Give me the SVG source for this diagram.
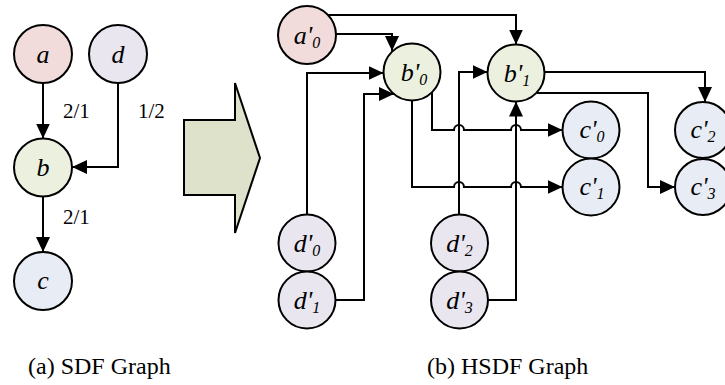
<svg xmlns="http://www.w3.org/2000/svg" width="725" height="385" viewBox="0 0 725 385">
  <defs>
    <marker id="arrow" markerUnits="userSpaceOnUse" markerWidth="15" markerHeight="14" refX="15" refY="7" orient="auto">
      <path d="M0,0 L15,7 L0,14 z" fill="#000"/>
    </marker>
    <style>
      .edge { fill: none; stroke: #000; stroke-width: 2; marker-end: url(#arrow); }
      .node { stroke: #000; stroke-width: 2; }
      .fa { fill: #f2dcdb; }
      .fb { fill: #ebf1de; }
      .fc { fill: #e8ecf4; }
      .fd { fill: #e9e6f0; }
      .lbl { font-style: italic; font-size: 26px; text-anchor: middle; fill: #000; }
      .sub { font-size: 16px; }
      .rate { font-size: 21px; fill: #000; }
      .cap { font-size: 24px; fill: #000; }
    </style>
  </defs>

  <g font-family="'Liberation Serif', 'DejaVu Serif', 'Times New Roman', serif">
  <!-- SDF graph connectors -->
  <g id="sdf-edges">
    <path class="edge" d="M43,83 L43,138.5"/>
    <path class="edge" d="M118,83 L118,167 L72,167"/>
    <path class="edge" d="M43,197 L43,252"/>
    <text class="rate" x="63" y="118">2/1</text>
    <text class="rate" x="138" y="118">1/2</text>
    <text class="rate" x="63" y="224">2/1</text>
  </g>

  <!-- SDF graph actors -->
  <g id="a"><circle class="node fa" cx="43" cy="54" r="29"/><text class="lbl" x="43" y="63">a</text></g>
  <g id="d"><circle class="node fd" cx="118" cy="54" r="29"/><text class="lbl" x="118" y="63">d</text></g>
  <g id="b"><circle class="node fb" cx="43" cy="167.5" r="29"/><text class="lbl" x="43" y="176">b</text></g>
  <g id="c"><circle class="node fc" cx="43" cy="281" r="29"/><text class="lbl" x="43" y="289">c</text></g>

  <!-- transformation arrow -->
  <polygon points="184,120 235,120 235,83 260,158 235,233 235,195 184,195" fill="#dee2cb" stroke="#000" stroke-width="2" stroke-linejoin="miter"/>

  <!-- HSDF graph connectors -->
  <g id="hsdf-edges">
    <path class="edge" d="M328,15 L516,15 L516,44.5"/>
    <path class="edge" d="M336,34 L392,34 L392,51"/>
    <path class="edge" d="M307,214.5 L307,73 L383.5,73"/>
    <path class="edge" d="M335.5,300 L364,300 L364,94 L394,94"/>
    <path class="edge" d="M459,214.5 L459,72 L487.5,72"/>
    <path class="edge" d="M488,300 L516,300 L516,101.5"/>
    <path class="edge" d="M432,92 L432,130 L454,130 A5,5 0 0 1 464,130 L511,130 A5,5 0 0 1 521,130 L562.5,130"/>
    <path class="edge" d="M412,100.5 L412,187 L454,187 A5,5 0 0 1 464,187 L511,187 A5,5 0 0 1 521,187 L562.5,187"/>
    <path class="edge" d="M544.5,72 L705,72 L705,102"/>
    <path class="edge" d="M537,93 L648,93 L648,187 L675,187"/>
  </g>

  <!-- HSDF graph actors -->
  <g id="a0"><circle class="node fa" cx="307" cy="35" r="29"/><text class="lbl" x="307" y="44">a'<tspan class="sub" dy="4">0</tspan></text></g>
  <g id="b0"><circle class="node fb" cx="412" cy="72" r="28.5"/><text class="lbl" x="414" y="81">b'<tspan class="sub" dy="4">0</tspan></text></g>
  <g id="b1"><circle class="node fb" cx="516" cy="73" r="28.5"/><text class="lbl" x="517" y="82">b'<tspan class="sub" dy="4">1</tspan></text></g>
  <g id="c0"><circle class="node fc" cx="591" cy="130" r="28.5"/><text class="lbl" x="592" y="138">c'<tspan class="sub" dy="4">0</tspan></text></g>
  <g id="c1"><circle class="node fc" cx="591" cy="187" r="28.5"/><text class="lbl" x="592" y="195">c'<tspan class="sub" dy="4">1</tspan></text></g>
  <g id="c2"><circle class="node fc" cx="703" cy="130" r="28"/><text class="lbl" x="703" y="138">c'<tspan class="sub" dy="4">2</tspan></text></g>
  <g id="c3"><circle class="node fc" cx="703" cy="187" r="28"/><text class="lbl" x="703" y="195">c'<tspan class="sub" dy="4">3</tspan></text></g>
  <g id="d0"><circle class="node fd" cx="307" cy="243" r="28.5"/><text class="lbl" x="307" y="252">d'<tspan class="sub" dy="4">0</tspan></text></g>
  <g id="d1"><circle class="node fd" cx="307" cy="300" r="28.5"/><text class="lbl" x="307" y="309">d'<tspan class="sub" dy="4">1</tspan></text></g>
  <g id="d2"><circle class="node fd" cx="459.5" cy="243" r="28.5"/><text class="lbl" x="459.5" y="252">d'<tspan class="sub" dy="4">2</tspan></text></g>
  <g id="d3"><circle class="node fd" cx="459.5" cy="300" r="28.5"/><text class="lbl" x="459.5" y="309">d'<tspan class="sub" dy="4">3</tspan></text></g>

  <!-- captions -->
  <text class="cap" x="28" y="374">(a) SDF Graph</text>
  <text class="cap" x="427" y="374">(b) HSDF Graph</text>
  </g>
</svg>
